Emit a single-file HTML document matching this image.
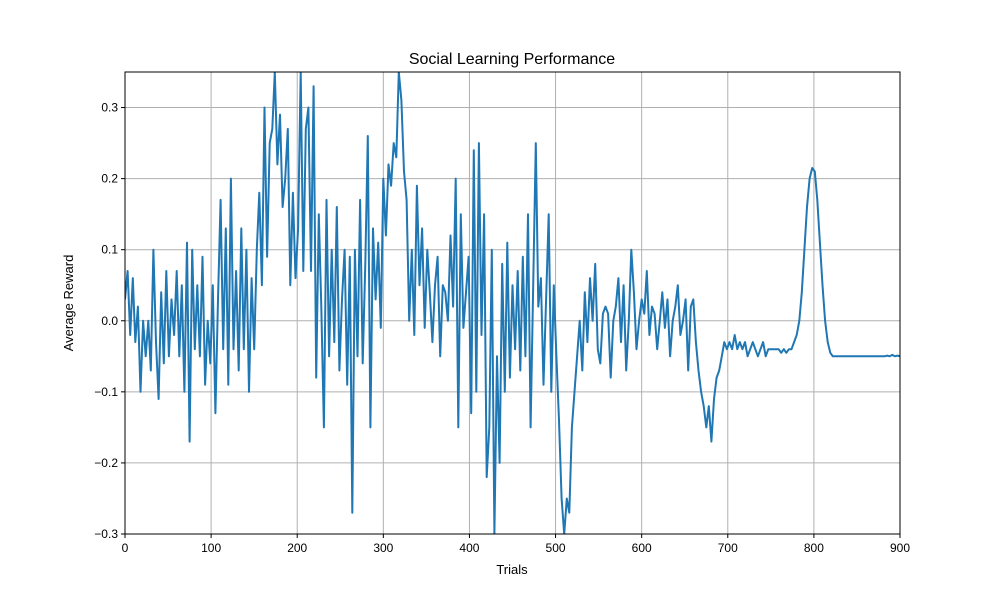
<!DOCTYPE html>
<html><head><meta charset="utf-8"><style>
body{margin:0;background:#fff;font-family:"Liberation Sans",sans-serif}
svg text{font-family:"Liberation Sans",sans-serif;fill:#000}
</style></head><body>
<svg id="chart" width="1000" height="600" xmlns="http://www.w3.org/2000/svg">
<rect width="1000" height="600" fill="#fff"/>
<text x="512" y="64" font-size="16" text-anchor="middle">Social Learning Performance</text>
<text x="512" y="574" font-size="13" text-anchor="middle">Trials</text>
<text x="73" y="303" font-size="13" text-anchor="middle" transform="rotate(-90 73 303)">Average Reward</text>
<defs><clipPath id="clip"><rect x="125" y="72" width="775" height="462"/></clipPath></defs>
<g id="grid"></g><g id="ticks"></g>
<path id="line" fill="none" stroke="#1f77b4" stroke-width="2" stroke-linejoin="round" clip-path="url(#clip)"/>
<rect x="125" y="72" width="775" height="462" fill="none" stroke="#000" stroke-width="1"/>
</svg>
<script>
const STEP = 3;
const rewards = [
0.03,0.07,-0.02,0.06,-0.03,0.02,-0.1,0.0,-0.05,0.0,
-0.07,0.1,-0.03,-0.11,0.04,-0.06,0.07,-0.05,0.03,-0.02,
0.07,-0.05,0.05,-0.1,0.11,-0.17,0.1,-0.04,0.05,-0.05,
0.09,-0.09,0.0,-0.06,0.05,-0.13,0.03,0.17,-0.04,0.13,
-0.09,0.2,-0.04,0.07,-0.07,0.13,-0.04,0.1,-0.1,0.06,
-0.04,0.1,0.18,0.05,0.3,0.09,0.25,0.27,0.35,0.22,
0.29,0.16,0.2,0.27,0.05,0.18,0.06,0.13,0.35,0.07,
0.27,0.3,0.07,0.33,-0.08,0.15,0.02,-0.15,0.17,-0.05,
0.1,-0.03,0.16,-0.07,0.03,0.1,-0.09,0.09,-0.27,0.1,
-0.05,0.17,-0.06,0.08,0.26,-0.15,0.13,0.03,0.11,-0.01,
0.2,0.12,0.22,0.19,0.25,0.23,0.35,0.31,0.21,0.17,
0.0,0.1,-0.02,0.19,0.05,0.13,-0.01,0.1,0.04,-0.03,
0.05,0.09,-0.05,0.05,0.04,0.0,0.12,0.02,0.2,-0.15,
0.15,-0.01,0.04,0.09,-0.13,0.24,-0.1,0.25,-0.02,0.15,
-0.22,-0.15,0.1,-0.3,-0.05,-0.2,0.08,-0.1,0.11,-0.08,
0.05,-0.04,0.07,-0.07,0.09,-0.05,0.15,-0.15,0.05,0.25,
0.02,0.06,-0.09,0.03,0.15,-0.1,0.05,-0.05,-0.14,-0.25,
-0.3,-0.25,-0.27,-0.15,-0.1,-0.05,0.0,-0.07,0.04,-0.03,
0.06,0.0,0.08,-0.04,-0.06,0.01,0.02,0.01,-0.08,0.0,
0.02,0.06,-0.03,0.05,-0.07,0.0,0.1,0.04,-0.04,0.0,
0.03,0.01,0.07,-0.02,0.02,0.01,-0.04,0.0,0.04,-0.01,
0.03,-0.05,0.0,0.02,0.05,-0.02,0.0,0.03,-0.07,0.02,
0.03,-0.03,-0.07,-0.1,-0.12,-0.15,-0.12,-0.17,-0.11,-0.08,
-0.07,-0.05,-0.03,-0.04,-0.03,-0.04,-0.02,-0.04,-0.03,-0.04,
-0.03,-0.05,-0.04,-0.03,-0.04,-0.05,-0.04,-0.03,-0.05,-0.04,
-0.04,-0.04,-0.04,-0.04,-0.045,-0.04,-0.045,-0.04,-0.04,-0.03,
-0.02,0.0,0.04,0.1,0.16,0.2,0.215,0.21,0.17,0.11,
0.05,0.0,-0.03,-0.045,-0.05,-0.05,-0.05,-0.05,-0.05,-0.05,
-0.05,-0.05,-0.05,-0.05,-0.05,-0.05,-0.05,-0.05,-0.05,-0.05,
-0.05,-0.05,-0.05,-0.05,-0.05,-0.049,-0.05,-0.048,-0.05,-0.049,
-0.05
];
const xTicks = [0,100,200,300,400,500,600,700,800,900];
const yTicks = [-0.3,-0.2,-0.1,0.0,0.1,0.2,0.3];
const yTickLabels = ["−0.3","−0.2","−0.1","0.0","0.1","0.2","0.3"];
const X0=125,X1=900,Y0=534,Y1=72, XMIN=0,XMAX=900,YMIN=-0.3,YMAX=0.35;
const sx=v=>X0+(v-XMIN)/(XMAX-XMIN)*(X1-X0);
const sy=v=>Y0-(v-YMIN)/(YMAX-YMIN)*(Y0-Y1);
const NS="http://www.w3.org/2000/svg";
const grid=document.getElementById('grid'), ticks=document.getElementById('ticks');
function mk(tag,attrs,parent){const e=document.createElementNS(NS,tag);for(const k in attrs)e.setAttribute(k,attrs[k]);parent.appendChild(e);return e;}
xTicks.forEach(t=>{
  const x=sx(t);
  const g=mk('line',{x1:x,x2:x,y1:Y1,y2:Y0,stroke:'#b0b0b0','stroke-width':1},grid);
  
  
  const tk=mk('line',{x1:x,x2:x,y1:Y0,y2:Y0+4,stroke:'#000'},ticks);
  
  
  const tx=mk('text',{x:x,y:Y0+18,'font-size':12,'text-anchor':'middle'},ticks);
  tx.textContent=t;
  
  
});
yTicks.forEach((t,i)=>{
  const y=sy(t);
  const g=mk('line',{x1:X0,x2:X1,y1:y,y2:y,stroke:'#b0b0b0','stroke-width':1},grid);
  
  
  const tk=mk('line',{x1:X0-4,x2:X0,y1:y,y2:y,stroke:'#000'},ticks);
  
  
  const tx=mk('text',{x:X0-7,y:y+4,'font-size':12,'text-anchor':'end'},ticks);
  tx.textContent=yTickLabels[i];
  
  
});
document.getElementById('line').setAttribute('d',rewards.map((v,i)=>(i?'L':'M')+sx(i*STEP).toFixed(1)+','+sy(v).toFixed(1)).join(''));
</script>
</body></html>
